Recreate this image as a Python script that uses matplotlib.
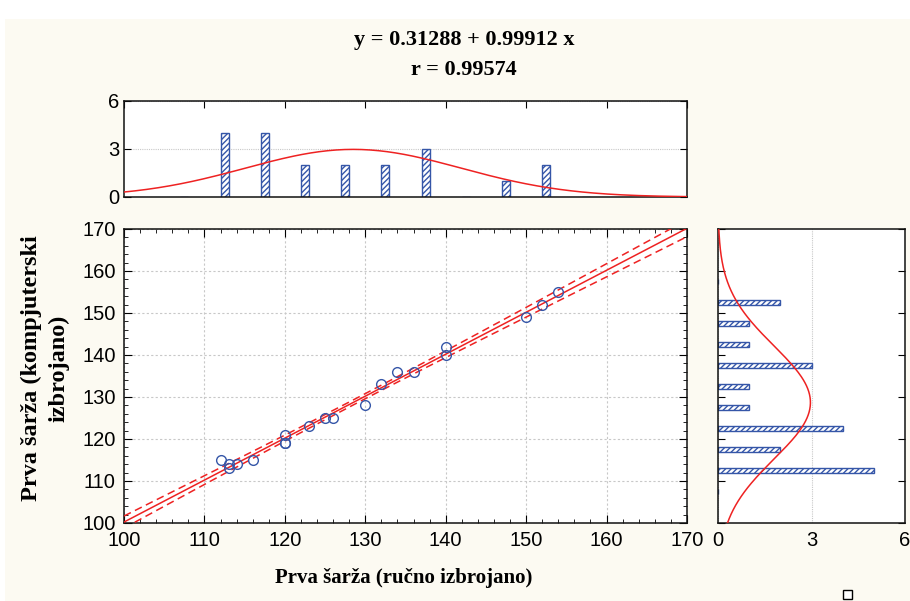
import matplotlib
import numpy as np

matplotlib.use("Agg")
import matplotlib.pyplot as plt
from matplotlib.patches import Rectangle
from matplotlib.ticker import MultipleLocator

# scatter data: manual count (x) vs computer count (y)
manual = [112, 113, 113, 114, 116, 120, 120, 120, 123, 125,
          126, 130, 132, 134, 136, 140, 140, 150, 152, 154]
computer = [115, 114, 113, 114, 115, 121, 119, 119, 123, 125,
            125, 128, 133, 136, 136, 142, 140, 149, 152, 155]

# marginal histograms (bin centres, counts)
bin_centres = [107.5, 112.5, 117.5, 122.5, 127.5, 132.5, 137.5, 142.5, 147.5, 152.5, 157.5]
top_counts = [0, 4, 4, 2, 2, 2, 3, 0, 1, 2, 0]
right_counts = [0, 5, 2, 4, 1, 1, 3, 1, 1, 2, 0]
bin_width = 5.0

title_lines = ["y = 0.31288 + 0.99912 x", "r = 0.99574"]
xlabel = "Prva šarža (ručno izbrojano)"
ylabel = "Prva šarža (kompjuterski\nizbrojano)"

CREAM = "#fcfaf2"
BLUE = "#3556a8"
RED = "#ee2222"

plt.rcParams["font.family"] = ["Liberation Sans", "DejaVu Sans"]
plt.rcParams["hatch.linewidth"] = 1.0
plt.rcParams["hatch.color"] = BLUE

fig = plt.figure(figsize=(9.10, 6.01), dpi=100, facecolor="white")
fig.patches.append(Rectangle((5 / 910, 0), 1, 1 - 19 / 601, transform=fig.transFigure,
                             facecolor=CREAM, edgecolor="none", zorder=-10))

ax = fig.add_axes([124 / 910, 1 - 523 / 601, 563 / 910, 294 / 601])
ax_top = fig.add_axes([124 / 910, 1 - 197 / 601, 563 / 910, 96 / 601])
ax_right = fig.add_axes([718 / 910, 1 - 523 / 601, 187 / 910, 294 / 601])

x = np.array(manual, dtype=float)
y = np.array(computer, dtype=float)
n = len(x)

# regression with 95% confidence band of the mean
slope, intercept = np.polyfit(x, y, 1)
xs = np.linspace(100, 170, 200)
fit = intercept + slope * xs
resid = y - (intercept + slope * x)
s = np.sqrt(np.sum(resid ** 2) / (n - 2))
t_crit = 2.101
band = t_crit * s * np.sqrt(1 / n + (xs - x.mean()) ** 2 / np.sum((x - x.mean()) ** 2))

ax.plot(xs, fit, color=RED, lw=1.1, zorder=3)
ax.plot(xs, fit + band, color=RED, lw=1.1, ls=(0, (5, 3)), zorder=3)
ax.plot(xs, fit - band, color=RED, lw=1.1, ls=(0, (5, 3)), zorder=3)
ax.plot(x, y, "o", ms=7, mfc="none", mec=BLUE, mew=1.0, zorder=4)

ax.set_xlim(100, 170)
ax.set_ylim(100, 170)
ax.xaxis.set_major_locator(MultipleLocator(10))
ax.yaxis.set_major_locator(MultipleLocator(10))
ax.xaxis.set_minor_locator(MultipleLocator(2))
ax.yaxis.set_minor_locator(MultipleLocator(2))
ax.grid(True, which="major", color="#c8c8c8", ls=(0, (2, 2)), lw=0.8)
ax.tick_params(which="both", direction="in", top=True, right=True, labelsize=14.5, pad=6)
ax.tick_params(which="major", length=6)
ax.tick_params(which="minor", length=3)
ax.set_axisbelow(True)

# top histogram of x
mx, sx = x.mean(), x.std(ddof=1)
curve_top = n * bin_width / (sx * np.sqrt(2 * np.pi)) * np.exp(-0.5 * ((xs - mx) / sx) ** 2)
ax_top.bar(bin_centres, top_counts, width=1.0, facecolor="white", edgecolor=BLUE,
           hatch="//////", lw=1.0, zorder=2)
ax_top.plot(xs, curve_top, color=RED, lw=1.1, zorder=3)
ax_top.set_xlim(100, 170)
ax_top.set_ylim(0, 6)
ax_top.set_yticks([0, 3, 6])
ax_top.xaxis.set_major_locator(MultipleLocator(10))
ax_top.set_xticklabels([])
ax_top.grid(True, axis="y", color="#c8c8c8", ls=(0, (1, 1)), lw=0.8)
ax_top.tick_params(direction="in", top=True, right=True, bottom=False, labelsize=14.5, length=5)
ax_top.set_axisbelow(True)

# right histogram of y
ys = np.linspace(100, 170, 200)
my, sy = y.mean(), y.std(ddof=1)
curve_right = n * bin_width / (sy * np.sqrt(2 * np.pi)) * np.exp(-0.5 * ((ys - my) / sy) ** 2)
ax_right.barh(bin_centres, right_counts, height=1.3, facecolor="white", edgecolor=BLUE,
              hatch="//////", lw=1.0, zorder=2)
ax_right.plot(curve_right, ys, color=RED, lw=1.1, zorder=3)
ax_right.set_ylim(100, 170)
ax_right.set_xlim(0, 6)
ax_right.set_xticks([0, 3, 6])
ax_right.yaxis.set_major_locator(MultipleLocator(10))
ax_right.set_yticklabels([])
ax_right.grid(True, axis="x", color="#c8c8c8", ls=(0, (1, 1)), lw=0.8)
ax_right.tick_params(direction="in", right=True, labelsize=14.5, length=5, pad=6)
ax_right.tick_params(axis="x", bottom=False)
ax_right.set_axisbelow(True)

for a in (ax, ax_top, ax_right):
    for sp in a.spines.values():
        sp.set_linewidth(1.1)
        sp.set_color("#111111")

serif = ["Liberation Serif", "DejaVu Serif"]
fig.text(0.51, 1 - 40 / 601, title_lines[0], ha="center", va="center",
         family=serif, weight="bold", fontsize=16)
fig.text(0.51, 1 - 70 / 601, title_lines[1], ha="center", va="center",
         family=serif, weight="bold", fontsize=16)
fig.text(404 / 910, 1 - 578 / 601, xlabel, ha="center", va="center",
         family=serif, weight="bold", fontsize=15)
fig.text(45 / 910, 1 - 368 / 601, ylabel, ha="center", va="center", rotation=90,
         family=serif, weight="bold", fontsize=17.5, linespacing=1.4)

# small empty marker box in the lower right corner
fig.patches.append(Rectangle((843 / 910, 2 / 601), 9 / 910, 9 / 601, transform=fig.transFigure,
                             facecolor="white", edgecolor="black", lw=1.0))

fig.savefig("out.png", dpi=100, facecolor=fig.get_facecolor())
plt.close(fig)
